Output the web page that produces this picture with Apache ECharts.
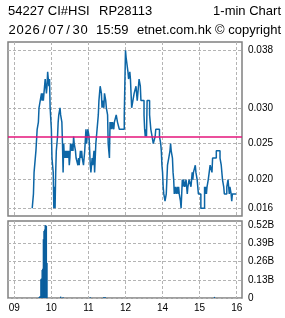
<!DOCTYPE html>
<html>
<head>
<meta charset="utf-8">
<script src="https://cdn.jsdelivr.net/npm/echarts@6/dist/echarts.min.js"></script>
<style>
  html, body { margin: 0; padding: 0; background: #fff; }
  #chart { width: 285px; height: 318px; }
</style>
</head>
<body>
<div id="chart"></div>
<script>
// axis ticks (x = trading minutes after 09:00, lunch hour removed)
var hourTicks = [0, 60, 120, 180, 240, 300, 360]
var hourLabels = ['09', '10', '11', '12', '14', '15', '16']
var priceTicks = [0.016, 0.020, 0.025, 0.030, 0.038]
var volumeTicks = [0, 0.13, 0.26, 0.39, 0.52]
var refLevel = 0.026

// 1-min price, only the minutes where it changed
var priceTimes = [
  '09:29', '09:31', '09:32', '09:35', '09:37', '09:39', '09:40', '09:42', '09:44', '09:45',
  '09:46', '09:47', '09:48', '09:49', '09:50', '09:51', '09:52', '09:53', '09:54', '09:56',
  '09:57', '09:58', '10:00', '10:01', '10:02', '10:03', '10:04', '10:05', '10:06', '10:07',
  '10:08', '10:10', '10:11', '10:12', '10:14', '10:15', '10:17', '10:18', '10:19', '10:20',
  '10:21', '10:22', '10:23', '10:24', '10:25', '10:26', '10:27', '10:28', '10:29', '10:30',
  '10:31', '10:33', '10:34', '10:35', '10:36', '10:37', '10:39', '10:40', '10:43', '10:44',
  '10:45', '10:46', '10:47', '10:48', '10:49', '10:50', '10:52', '10:53', '10:54', '10:56',
  '10:57', '10:58', '10:59', '11:01', '11:02', '11:03', '11:04', '11:06', '11:07', '11:08',
  '11:09', '11:10', '11:11', '11:12', '11:13', '11:14', '11:15', '11:16', '11:17', '11:18',
  '11:19', '11:21', '11:22', '11:23', '11:25', '11:26', '11:28', '11:29', '11:31', '11:32',
  '11:33', '11:34', '11:35', '11:36', '11:37', '11:38', '11:39', '11:41', '11:42', '11:45',
  '11:47', '11:50', '11:58',
  '13:00', '13:01', '13:04', '13:05', '13:07', '13:08', '13:09', '13:10', '13:12', '13:14',
  '13:17', '13:18', '13:19', '13:21', '13:22', '13:24', '13:25', '13:30', '13:31', '13:32',
  '13:33', '13:34', '13:35', '13:39', '13:40', '13:41', '13:43', '13:45', '13:48', '13:49',
  '13:55', '13:57', '13:58', '13:59', '14:00', '14:01', '14:02', '14:04', '14:06', '14:07',
  '14:08', '14:10', '14:12', '14:13', '14:14', '14:16', '14:17', '14:18', '14:19', '14:21',
  '14:22', '14:24', '14:25', '14:26', '14:27', '14:29', '14:30', '14:31', '14:32', '14:33',
  '14:34', '14:36', '14:38', '14:39', '14:40', '14:41', '14:43', '14:46', '14:47', '14:48',
  '14:49', '14:50', '14:53', '14:54', '14:56', '14:58', '15:02', '15:08', '15:09', '15:10',
  '15:11', '15:12', '15:14', '15:17', '15:20', '15:21', '15:27', '15:33', '15:35', '15:37',
  '15:39', '15:40', '15:44', '15:46', '15:47', '15:48', '15:49', '15:51', '15:52', '15:53',
  '15:59'
]
var priceValues = [
  0.016, 0.018, 0.021, 0.024, 0.027, 0.028, 0.030, 0.031, 0.032, 0.031,
  0.032, 0.031, 0.032, 0.033, 0.034, 0.033, 0.032, 0.033, 0.035, 0.033,
  0.034, 0.030, 0.027, 0.023, 0.022, 0.021, 0.016, 0.019, 0.016, 0.021,
  0.024, 0.026, 0.028, 0.029, 0.030, 0.029, 0.028, 0.025, 0.021, 0.025,
  0.023, 0.024, 0.023, 0.024, 0.023, 0.024, 0.023, 0.024, 0.022, 0.023,
  0.025, 0.024, 0.025, 0.024, 0.026, 0.025, 0.024, 0.023, 0.022, 0.023,
  0.022, 0.023, 0.024, 0.023, 0.024, 0.023, 0.022, 0.023, 0.024, 0.027,
  0.025, 0.026, 0.027, 0.026, 0.024, 0.022, 0.021, 0.023, 0.022, 0.023,
  0.024, 0.021, 0.023, 0.025, 0.026, 0.027, 0.028, 0.029, 0.031, 0.032,
  0.033, 0.032, 0.030, 0.031, 0.030, 0.032, 0.031, 0.030, 0.029, 0.025,
  0.024, 0.023, 0.028, 0.027, 0.028, 0.027, 0.028, 0.027, 0.028, 0.029,
  0.028, 0.027, 0.029,
  0.038, 0.037, 0.035, 0.034, 0.035, 0.034, 0.032, 0.030, 0.031, 0.032,
  0.033, 0.032, 0.031, 0.033, 0.034, 0.033, 0.031, 0.029, 0.027, 0.026,
  0.027, 0.026, 0.031, 0.029, 0.028, 0.027, 0.026, 0.025, 0.026, 0.027,
  0.026, 0.025, 0.024, 0.022, 0.021, 0.019, 0.018, 0.017, 0.018, 0.020,
  0.022, 0.023, 0.024, 0.025, 0.024, 0.023, 0.021, 0.020, 0.018, 0.019,
  0.018, 0.019, 0.018, 0.019, 0.018, 0.017, 0.016, 0.018, 0.020, 0.019,
  0.020, 0.019, 0.020, 0.019, 0.018, 0.019, 0.020, 0.019, 0.020, 0.021,
  0.020, 0.021, 0.022, 0.021, 0.020, 0.018, 0.016, 0.019, 0.018, 0.019,
  0.018, 0.019, 0.020, 0.022, 0.021, 0.023, 0.024, 0.023, 0.022, 0.020,
  0.019, 0.018, 0.019, 0.020, 0.019, 0.018, 0.019, 0.018, 0.017, 0.018,
  0.018
]

// turnover per minute, in billions
var volumeTimes = [
  '09:40', '09:41', '09:42', '09:43', '09:44', '09:45', '09:46', '09:47', '09:48', '09:49',
  '09:50', '09:51', '09:52', '09:53', '10:15', '10:19', '11:03', '11:25', '11:27', '15:24'
]
var volumeValues = [
  0.006, 0.010, 0.012, 0.135, 0.140, 0.200, 0.210, 0.420, 0.480, 0.490,
  0.520, 0.520, 0.515, 0.250, 0.010, 0.005, 0.006, 0.008, 0.008, 0.008
]

// 'HH:MM' -> minutes after 09:00 with the 12:00-13:00 break cut out
function toSlot(t) {
  var p = t.split(':')
  var h = +p[0]
  var mins = (h - 9) * 60 + (+p[1])
  if (h >= 13) mins -= 60
  return mins
}

// every char in a fixed 8px cell, like the old bitmap font
function cells(str) {
  return str.split('').map(function(c) { return '{c|' + c + '}' }).join('')
}

var priceData = priceTimes.map(function(t, i) { return [toSlot(t), priceValues[i]] })
var volumeData = volumeTimes.map(function(t, i) { return [toSlot(t), volumeValues[i]] })

var xMin = -10.2
var xMax = 368.6
var gridLine = { show: true, lineStyle: { color: '#b4b4b4', width: 1, type: [3, 2] }}
var tickFont = { color: '#000', fontFamily: 'Liberation Sans', fontSize: 10 }
var headFont = { color: '#000', fontFamily: 'Liberation Sans', fontSize: 13, fontWeight: 'normal' }

var chart = echarts.init(document.getElementById('chart'))
chart.setOption({
  animation: false,
  backgroundColor: '#fff',
  title: [
    { text: '54227 CI#HSI', left: 8, top: 5, padding: 0, textStyle: headFont },
    { text: 'RP28113', left: 99, top: 5, padding: 0, textStyle: headFont },
    { text: '1-min Chart', right: 4, top: 5, padding: 0, textStyle: headFont },
    {
      text: cells('2026/07/30'), left: 8, top: 24, padding: 0,
      textStyle: Object.assign({}, headFont, {
        rich: { c: Object.assign({}, headFont, { width: 8, align: 'center' }) }
      })
    },
    { text: '15:59', left: 96, top: 24, padding: 0, textStyle: headFont },
    { text: 'etnet.com.hk © copyright', right: 4, top: 24, padding: 0, textStyle: headFont }
  ],
  grid: [
    { left: 8, top: 42, width: 234, height: 174, show: true, borderColor: '#808080', borderWidth: 1.5, containLabel: false, outerBoundsMode: 'none' },
    { left: 8, top: 221, width: 234, height: 77, show: true, borderColor: '#808080', borderWidth: 1.5, containLabel: false, outerBoundsMode: 'none' }
  ],
  xAxis: [
    {
      gridIndex: 0, type: 'value', min: xMin, max: xMax,
      axisLine: { show: false },
      axisTick: { show: false, customValues: hourTicks },
      axisLabel: { show: false },
      splitLine: gridLine
    },
    {
      gridIndex: 1, type: 'value', min: xMin, max: xMax,
      axisLine: { show: false },
      axisTick: { show: false, customValues: hourTicks },
      axisLabel: Object.assign({
        customValues: hourTicks,
        margin: 5,
        formatter: function(v) { return hourLabels[hourTicks.indexOf(v)] }
      }, tickFont),
      splitLine: gridLine
    }
  ],
  yAxis: [
    {
      gridIndex: 0, type: 'value', position: 'right', min: 0.014928, max: 0.039156,
      axisLine: { show: false },
      axisTick: { show: false, customValues: priceTicks },
      axisLabel: Object.assign({
        customValues: priceTicks,
        margin: 6,
        formatter: function(v) { return v.toFixed(3) }
      }, tickFont),
      splitLine: gridLine
    },
    {
      gridIndex: 1, type: 'value', position: 'right', min: 0, max: 0.551,
      axisLine: { show: false },
      axisTick: { show: false, customValues: volumeTicks },
      axisLabel: Object.assign({
        customValues: volumeTicks,
        margin: 6,
        formatter: function(v) { return v === 0 ? '0' : v.toFixed(2) + 'B' }
      }, tickFont),
      splitLine: gridLine
    }
  ],
  series: [
    {
      name: 'price',
      type: 'line',
      xAxisIndex: 0,
      yAxisIndex: 0,
      step: 'end',
      symbol: 'none',
      data: priceData,
      lineStyle: { color: '#0d66a6', width: 1.5 },
      markLine: {
        silent: true,
        symbol: 'none',
        precision: 4,
        label: { show: false },
        lineStyle: { color: '#e5157b', width: 1.5, type: 'solid' },
        data: [{ yAxis: refLevel }]
      }
    },
    {
      name: 'volume',
      type: 'bar',
      xAxisIndex: 1,
      yAxisIndex: 1,
      barWidth: 1.3,
      data: volumeData,
      itemStyle: { color: '#0b5f9e' }
    }
  ]
})
</script>
</body>
</html>
